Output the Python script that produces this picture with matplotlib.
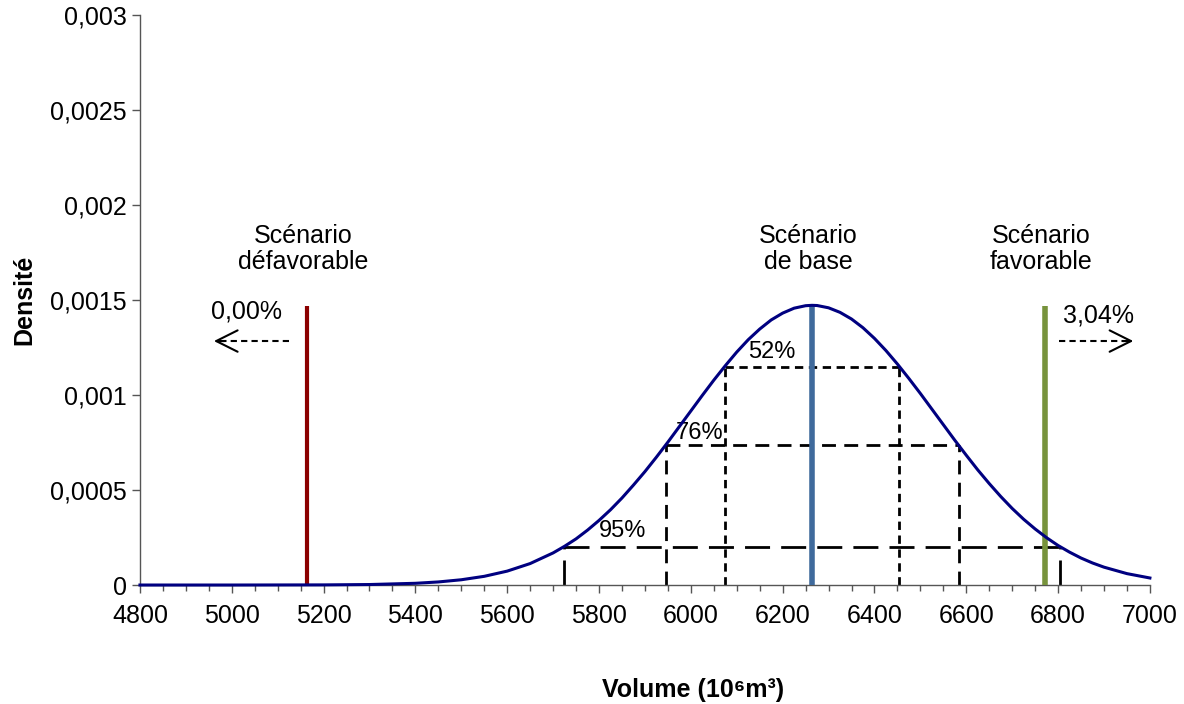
import numpy as np
import matplotlib
matplotlib.use("Agg")
import matplotlib.pyplot as plt
from matplotlib.ticker import MultipleLocator, FuncFormatter

plt.rcParams['font.family'] = ['Liberation Sans', 'DejaVu Sans']

# density curve (volume, densite)
volume = [4800, 5000, 5200, 5300, 5400, 5450, 5500, 5550, 5600, 5650, 5700,
          5725, 5750, 5775, 5800, 5825, 5850, 5875, 5900, 5925, 5950, 5975,
          6000, 6025, 6050, 6075, 6100, 6125, 6150, 6175, 6200, 6225, 6250,
          6264, 6275, 6300, 6325, 6350, 6375, 6400, 6425, 6450, 6475, 6500,
          6525, 6550, 6575, 6600, 6625, 6650, 6675, 6700, 6725, 6750, 6775,
          6800, 6825, 6850, 6875, 6900, 6950, 7000]
densite = [0.0, 0.0, 0.0000007, 0.0000026, 0.0000091, 0.0000162, 0.0000277,
           0.0000458, 0.0000732, 0.000113, 0.000169,
           0.000204, 0.000243, 0.000289, 0.000340, 0.000396, 0.000458,
           0.000526, 0.000597, 0.000673, 0.000752, 0.000834,
           0.000916, 0.000998, 0.001078, 0.001154, 0.001226, 0.001291,
           0.001347, 0.001395, 0.001431, 0.001457, 0.001470,
           0.001472, 0.001471, 0.001459, 0.001435, 0.001400, 0.001354,
           0.001298, 0.001234, 0.001163, 0.001087, 0.001008,
           0.000926, 0.000844, 0.000762, 0.000683, 0.000606, 0.000534,
           0.000466, 0.000403, 0.000346, 0.000295, 0.000249,
           0.000208, 0.000173, 0.000142, 0.000116, 0.000094, 0.000060,
           0.000037]

# scenarios
scenario_labels = ["Scénario\ndéfavorable", "Scénario\nde base", "Scénario\nfavorable"]
scenario_x = [5164, 6264, 6771]
scenario_top = [0.00147, 0.00147, 0.00147]
scenario_colors = ["#8B0000", "#3F6A9C", "#77933C"]

# confidence intervals
ic_labels = ["52%", "76%", "95%"]
ic_low = [6074, 5946, 5724]
ic_high = [6453, 6584, 6804]
ic_level = [0.001147, 0.000737, 0.000200]

tail_left = "0,00%"
tail_right = "3,04%"

fig = plt.figure(figsize=(11.84, 7.04), dpi=100)
ax = fig.add_axes([0.1182, 0.169, 0.853, 0.8097])

dash_styles = [(0, (3, 2)), (0, (5, 3)), (0, (9, 4))]
label_pos = [(6176, 0.001228), (6018, 0.000800), (5852, 0.000284)]
for i in range(3):
    ax.plot([ic_low[i], ic_high[i]], [ic_level[i], ic_level[i]],
            color='black', lw=2, linestyle=dash_styles[i], zorder=2)
    ax.vlines([ic_low[i], ic_high[i]], 0, ic_level[i],
              color='black', lw=2, linestyle=dash_styles[i], zorder=2)
    ax.text(label_pos[i][0], label_pos[i][1], ic_labels[i],
            ha='center', va='center', fontsize=17)

ax.plot(volume, densite, color='#000080', lw=2.2, zorder=4, clip_on=False,
        solid_joinstyle='round')

for i in range(3):
    ax.vlines(scenario_x[i], 0, scenario_top[i], color=scenario_colors[i],
              lw=3 if i == 0 else 4, zorder=3)
    ax.text(scenario_x[i] - 8, 0.00177, scenario_labels[i],
            ha='center', va='center', fontsize=18, linespacing=1.1)

# tail probabilities
ax.text(5033, 0.00144, tail_left, ha='center', va='center', fontsize=18)
ax.plot([5125, 4965], [0.001284, 0.001284], color='black', lw=1.5,
        linestyle=(0, (3, 2)))
ax.annotate("", xy=(4955, 0.001284), xytext=(4990, 0.001284),
            arrowprops=dict(arrowstyle='->,head_length=0.7,head_width=0.35',
                            color='black', lw=1.5, mutation_scale=22))
ax.text(6887, 0.001416, tail_right, ha='center', va='center', fontsize=18)
ax.plot([6802, 6960], [0.001284, 0.001284], color='black', lw=1.5,
        linestyle=(0, (3, 2)))
ax.annotate("", xy=(6970, 0.001284), xytext=(6935, 0.001284),
            arrowprops=dict(arrowstyle='->,head_length=0.7,head_width=0.35',
                            color='black', lw=1.5, mutation_scale=22))

ax.set_xlim(4800, 7000)
ax.set_ylim(0, 0.003)
ax.xaxis.set_major_locator(MultipleLocator(200))
ax.xaxis.set_minor_locator(MultipleLocator(50))
ax.yaxis.set_major_locator(MultipleLocator(0.0005))
ax.yaxis.set_major_formatter(FuncFormatter(
    lambda v, p: "0" if v == 0 else ("%g" % round(v, 5)).replace('.', ',')))

for side in ['top', 'right']:
    ax.spines[side].set_visible(False)
for side in ['left', 'bottom']:
    ax.spines[side].set_color('#555555')
    ax.spines[side].set_linewidth(1)

ax.tick_params(axis='both', which='major', direction='out', length=6,
               width=1, color='#555555', labelsize=18)
ax.tick_params(axis='x', which='minor', direction='out', length=4,
               width=1, color='#555555')
ax.tick_params(axis='x', pad=8)

fig.text(0.585, 0.02, "Volume (10⁶m³)", fontsize=18, fontweight='bold',
         ha='center', va='center')
ax.set_ylabel("Densité", fontsize=18, fontweight='bold')
ax.yaxis.set_label_coords(-0.103, 0.5)

fig.savefig("out.png", dpi=100)
